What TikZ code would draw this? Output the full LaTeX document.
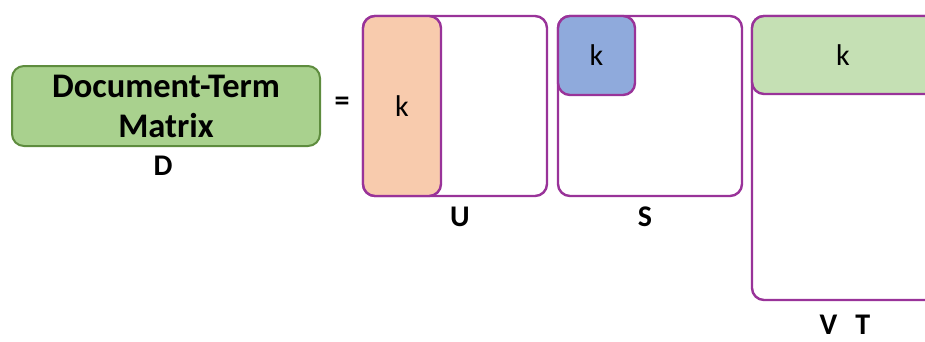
\documentclass[tikz,border=0pt]{standalone}
\usepackage{fontspec}
\setmainfont{Carlito}
\usetikzlibrary{positioning}

\definecolor{matline}{HTML}{993399}
\definecolor{dgreen}{HTML}{A9D18E}
\definecolor{dborder}{HTML}{5E8C3E}
\definecolor{uorange}{HTML}{F8CBAD}
\definecolor{sblue}{HTML}{8FAADC}
\definecolor{vgreen}{HTML}{C5E0B4}

\tikzset{
  mat/.style={draw=matline, line width=2.4pt, rounded corners=12pt, inner sep=0pt, fill=white},
  part/.style={mat, font=\fontsize{30}{32}\selectfont},
  matlabel/.style={font=\fontsize{30}{32}\selectfont\bfseries, inner sep=0pt}
}

\begin{document}
\begin{tikzpicture}[x=1pt, y=-1pt]
  \useasboundingbox (0,0) rectangle (925,341);
  \clip (0,0) rectangle (925,341);
  % the document-term matrix
  \node[draw=dborder, line width=2pt, fill=dgreen, rounded corners=12pt,
        minimum width=308pt, minimum height=80pt, align=center, inner sep=0pt,
        font=\fontsize{34.5}{40}\selectfont\bfseries] (dtm) at (166,106) {Document-Term\\Matrix};
  \node[matlabel] (dlabel) at (163,166) {D};
  \node[matlabel] (eq) at (342,104) {=};
  % U
  \node[mat, minimum width=184pt, minimum height=180pt] (umat) at (455,106) {};
  \node[part, fill=uorange, minimum width=78pt, minimum height=180pt] (uk) at (402,106) {k};
  \node[matlabel] (ulabel) at (460,217) {U};
  % S
  \node[mat, minimum width=184pt, minimum height=180pt] (smat) at (650,106) {};
  \node[part, fill=sblue, minimum width=77pt, minimum height=79pt] (sk) at (596.5,55.5) {k};
  \node[matlabel] (slabel) at (645,217) {S};
  % V^T
  \node[mat, minimum width=200pt, minimum height=284pt] (vmat) at (852,158) {};
  \node[part, fill=vgreen, minimum width=200pt, minimum height=78pt] (vk) at (852,55) {};
  \node[font=\fontsize{30}{32}\selectfont] (vkt) at (843,55) {k};
  \node[matlabel] (vlabel) at (845,325) {V\hspace{18pt}T};
\end{tikzpicture}
\end{document}
